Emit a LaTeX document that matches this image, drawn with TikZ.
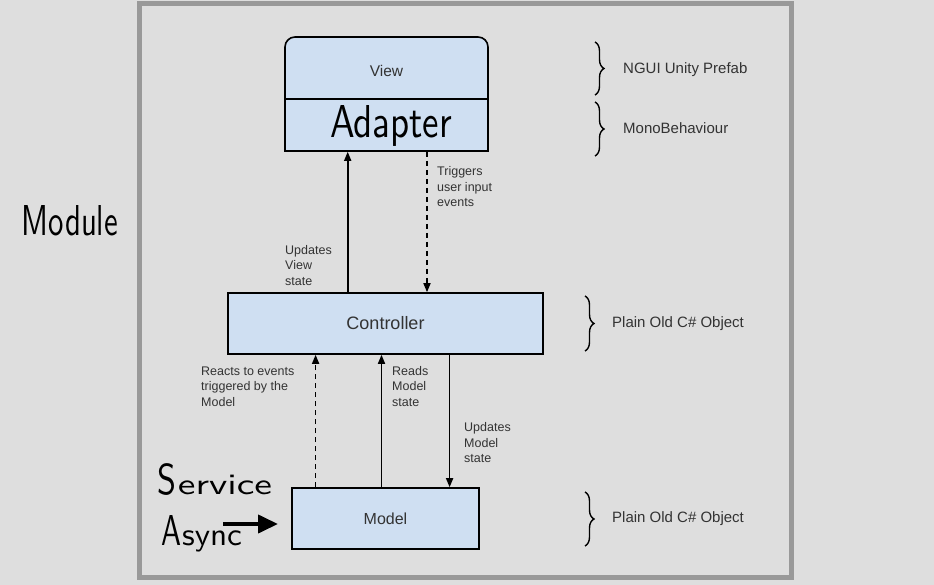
\documentclass[tikz,border=0pt]{standalone}
\usepackage{fontspec}
\setmainfont{Liberation Sans}
\newfontfamily\hand{lmsans10-regular}[Extension=.otf]
\usetikzlibrary{arrows.meta,decorations.pathreplacing}
\definecolor{bg}{HTML}{DEDEDE}
\definecolor{frame}{HTML}{999999}
\definecolor{boxfill}{HTML}{CFDFF2}
\definecolor{txt}{HTML}{333333}
\begin{document}
\begin{tikzpicture}[x=1pt,y=-1pt,
 box/.style={draw=black, line width=1.6pt, fill=boxfill, inner sep=0pt, text=txt},
 lbl/.style={font=\fontsize{12.5}{15.5}\selectfont, text=txt, align=left, inner sep=0pt, anchor=west},
 side/.style={font=\fontsize{15}{18}\selectfont, text=txt, inner sep=0pt, anchor=west},
 conn/.style={line width=1.6pt, -{Triangle[length=9pt,width=7pt]}},
 dconn/.style={conn, dash pattern=on 5pt off 4pt},
 bracedec/.style={decorate, decoration={brace, amplitude=9pt}, line width=1.4pt},
 handw/.style={font=\hand\fontsize{40}{40}\selectfont, inner sep=0pt, text=black}]
\fill[bg] (0,0) rectangle (934,585);
\useasboundingbox (0,0) rectangle (934,585);
\draw[frame, line width=5pt] (139.5,3.5) rectangle (791.5,577.5);

% boxes
\node[box, rounded corners=10pt, minimum width=203pt, minimum height=80pt] (view) at (386.5,77) {};
\node[box, minimum width=203pt, minimum height=52pt] (adapter) at (386.5,125) {};
\node[font=\fontsize{15.5}{18}\selectfont, text=txt, inner sep=0pt] (viewtxt) at (386.5,71) {View};
\node[handw] (adaptertxt) at (391,125.5) {\resizebox{122pt}{32pt}{Adapter}};
\node[box, minimum width=315pt, minimum height=61pt, font=\fontsize{18}{20}\selectfont] (ctrl) at (385.5,323.5) {Controller};
\node[box, minimum width=187pt, minimum height=61pt, font=\fontsize{16}{18}\selectfont] (model) at (385.5,518.5) {Model};

% connectors
\coordinate (c1) at (347.7,0);
\coordinate (c2) at (427,0);
\coordinate (c3) at (315.6,0);
\coordinate (c4) at (381.5,0);
\coordinate (c5) at (449.6,0);
\draw[conn] (ctrl.north -| c1) -- (adapter.south -| c1);
\draw[dconn] (adapter.south -| c2) -- (ctrl.north -| c2);
\draw[dconn] (model.north -| c3) -- (ctrl.south -| c3);
\draw[conn] (model.north -| c4) -- (ctrl.south -| c4);
\draw[conn] (ctrl.south -| c5) -- (model.north -| c5);

% labels
\node[lbl] (l1) at (437,187) {Triggers\\user input\\events};
\node[lbl] (l2) at (285,265.5) {Updates\\View\\state};
\node[lbl] (l3) at (201,386.5) {Reacts to events\\triggered by the\\Model};
\node[lbl] (l4) at (392,386.5) {Reads\\Model\\state};
\node[lbl] (l5) at (464,443) {Updates\\Model\\state};

% braces and side texts
\draw[bracedec] (595,42) -- (595,95);
\draw[bracedec] (595,102) -- (595,156);
\draw[bracedec] (585,296) -- (585,351);
\draw[bracedec] (585,492) -- (585,546);
\node[side] (s1) at (623,70) {NGUI Unity Prefab};
\node[side] (s2) at (623,128) {MonoBehaviour};
\node[side] (s3) at (612,324) {Plain Old C\# Object};
\node[side] (s4) at (612,519) {Plain Old C\# Object};

% handwritten notes
\node[handw] (module) at (70,221) {\resizebox{96pt}{30pt}{Module}};
\node[handw] (service) at (214.5,480) {\scalebox{0.85}[1.08]{S}\hspace{2pt}\scalebox{0.99}[0.74]{ervice}};
\node[handw] (async) at (201.5,533.5) {\scalebox{0.75}[1.08]{A}\hspace{1pt}\scalebox{0.83}[0.8]{sync}};
\coordinate (aa) at (223,524);
\coordinate (ab) at (278,524);
\draw[line width=4pt, -{Triangle[length=20pt,width=18pt]}] (aa) -- (ab);
\end{tikzpicture}
\end{document}
